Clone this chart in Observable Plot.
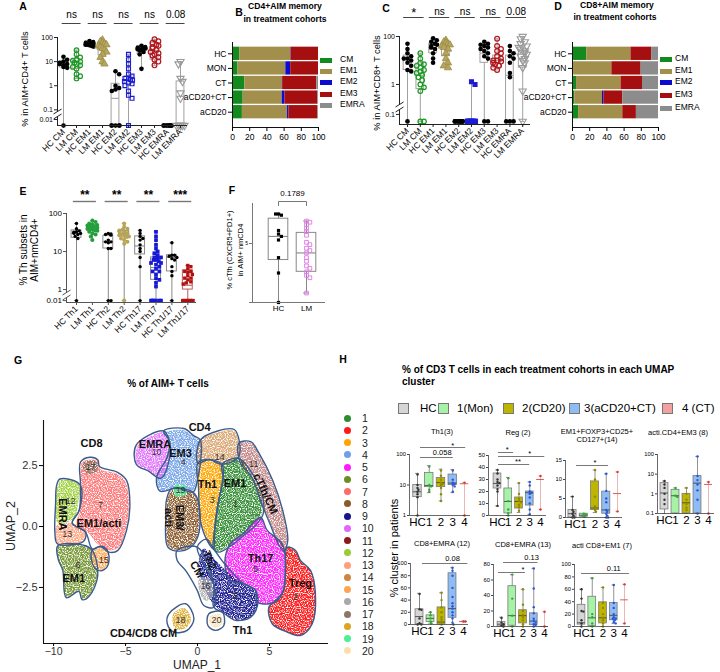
<!DOCTYPE html>
<html><head><meta charset="utf-8">
<script src="https://cdn.jsdelivr.net/npm/d3@7"></script>
<script src="https://cdn.jsdelivr.net/npm/@observablehq/plot@0.6"></script>
<style>
html,body{margin:0;padding:0;background:#fff;}
#fig{position:relative;width:720px;height:672px;overflow:hidden;font-family:"Liberation Sans",Arial,Helvetica,sans-serif;color:#000;background:#fff;}
.t{position:absolute;white-space:pre;line-height:1.15;}
.sw{position:absolute;box-sizing:border-box;}
</style></head>
<body><div id="fig"></div>
<script>
// ---------------- A / C : memory subsets of AIM+ CD4 and CD8 T cells ----------------
const memLabels = ["HC CM","LM CM","HC EM1","LM EM1","HC EM2","LM EM2","HC EM3","LM EM3","HC EMRA","LM EMRA"];
const aValues = [
  [16,12,10,9,8,8,7,6,5.5,0],
  [30,20,15,12,11,10,9,8,7,6,5,3,2.5,2],
  [72,65,60,55,55,50,50,48,45,42],
  [80,70,60,55,50,45,40,35,30,25,20,15,10,8],
  [4,3,1,0.8,0.7,0.6,0,0,0,0,0],
  [20,12,8,5,3,2.5,2,2,1.8,1.7,1.5,1.3,1.2,1,0.6,0.4,0.3,0],
  [45,40,38,35,35,33,30,30,25,20,5],
  [85,70,60,50,45,40,35,30,25,22,20,18,15,12,10,7],
  [0,0,0,0,0,0,0,0,0,0],
  [10,8,2,1.5,0.5,0.3,0,0,0,0,0,0]
];
// [min, q1, median, q3, max]
const aBoxes = [[0,5.7,8,10,16],[2,5,10,13,30],[42,47,55,68,75],[8,18,38,60,80],[0,0,0.3,1.2,4],
                [0,1.2,1.8,2.5,20],[5,21,33,38,45],[7,12,29,60,85],[0,0,0,0,0],[0,0,0,1.5,10]];
const aSig = ["ns","ns","ns","ns","0.08"];

const cValues = [
  [50,30,20,15,12,12,10,8,6,4,3.5,0],
  [20,12,8,7,6,5,4,3.5,3,2.5,2,1.5,1,0.8,0.6,0,0],
  [85,70,60,50,45,40,35,30,20,12,8],
  [70,60,55,50,45,40,35,30,20,12,8,6,5],
  [0,0,0,0,0,0,0,0,0,0],
  [1.3,1,0,0,0,0,0,0,0,0,0,0,0,0],
  [60,50,45,40,35,30,25,20,15,12,0,0],
  [80,40,30,25,20,15,12,10,10,9,8,7,6,5,4],
  [40,25,20,15,12,8,3,2,0,0,0],
  [100,80,60,50,40,35,30,25,20,18,15,12,10,8,5,0.6,0]
];
const cBoxes = [[0,4,11,16,50],[0,0.7,2.4,7.5,20],[8,20,30,50,85],[5,15,35,50,70],[0,0,0,0,0],
                [0,0,0,0,1.3],[0,8,20,31,60],[4,5,10,16,80],[0,0,2.4,16,40],[0,5,12,25,100]];
const cSig = ["*","ns","ns","ns","0.08"];

// ---------------- B / D : memory composition per treatment cohort ----------------
const cohorts = ["HC","MON","CT","aCD20+CT","aCD20"];
const subsets = ["CM","EM1","EM2","EM3","EMRA"];
const subsetColors = ["#138a1d","#a38f4c","#0c0cd0","#a50f0f","#8c8c8c"];
const cd4Memory = [[8.4,59.3,0.5,31.8,0],[6.4,55.6,5.7,32.3,0],[14.3,43.7,0.3,39.7,2.0],[12.4,45.4,3.2,38.2,0.8],[11.5,52.5,1.7,33.5,0.8]];
const cd8Memory = [[16.6,51.4,0,24,8],[0,45.8,0,34,20.2],[4.7,51.8,0,24.9,18.6],[2.8,32,1.6,22.1,41.5],[7.1,51.4,0,15.8,25.7]];

// ---------------- E : Th subsets ----------------
const thLabels = ["HC Th1","LM Th1","HC Th2","LM Th2","HC Th17","LM Th17","HC Th1/17","LM Th1/17"];
const eValues = [
  [55,40,35,33,32,30,30,28,25,22,0],
  [65,60,55,52,50,48,46,45,44,42,40,40,38,36,35,33,30,28,25,20],
  [30,29,28,27,20,18,18,17,12,12,0,0],
  [55,45,40,38,36,34,32,30,30,28,27,26,25,24,22,20,18,16,0],
  [36,30,25,22,20,15,12,10,7,4,0],
  [33,25,20,15,12,10,9,8,7,7,6.5,6,6,5.5,5,5,4.5,4,3.5,3,3,2.5,2,1.8,1.5,1.2,0,0,0,0,0,0],
  [17,8,8,7.5,7,6.5,6,4,3,2.3,0],
  [4.3,4,3.5,3,3,2.8,2.5,2.3,2,2,1.8,1.6,1.5,1.4,0,0,0,0,0,0,0,0,0,0,0,0]
];
const eBoxes = [[0,23,30,36,55],[20,35,42,50,65],[0,12,18,26,30],[0,25,30,35,55],[0,8.4,14,25,36],
                [0,1.8,3.8,7,33],[0,3,7,8,17],[0,1,1.3,3.2,4.3]];
const eSig = ["**","**","**","***"];

// ---------------- F : circulating Tfh ----------------
const fLabels = ["HC","LM"];
const fValues = [[7.5,7.4,7.5,6.1,5.8,5.6,5.3,3.8,2.5,0],
                 [6.9,6.8,6.6,6.3,6.0,5.7,5.1,4.9,4.6,4.4,4.2,3.8,3.5,3.1,2.9,2.6,2.3,2.1,0.8]];
const fBoxes = [[0,3.6,5.6,7.1,7.5],[0.8,2.6,4.2,5.9,6.9]];
const fSig = ["0.1789"];

// ---------------- G : UMAP of AIM+ T cells ----------------
const umapIds = [1,2,3,4,5,6,7,8,9,10,11,12,13,14,15,16,17,18,19,20];
const umapColors = ["#2e8b2e","#ff1a1a","#ffa500","#6f9fe8","#ff1aff","#6b8e23","#ff6a6a","#8b5a2b","#14148c","#e066ff",
                    "#8b1a1a","#9acd32","#ffa07a","#cd853f","#ffa54f","#a9a9a9","#8b7765","#daa520","#4eee94","#ffdead"];
const umapShapes = [
  [[1.67,2.58],[2.85,2.79],[3.54,2.30],[4.4,1.3],[4.45,0.5],[3.9,0.05],[3.1,-0.35],[2.3,-0.75],[1.5,-1.0],[1.11,-0.9],[1.18,0.25],[1.53,1.68]],
  [[6.23,-0.85],[6.81,-0.98],[7.15,-1.39],[7.85,-1.8],[8.19,-2.76],[7.97,-3.99],[7.15,-4.47],[6.23,-4.33],[5.19,-3.99],[4.95,-3.31],[5.3,-3.1],[5.99,-2.62],[6.11,-1.53]],
  [[-0.02,2.57],[0.79,2.7],[1.65,2.5],[1.71,2.02],[1.37,0.93],[1.13,-0.16],[1.09,-0.85],[0.63,-0.5],[0.21,0.25],[0.09,1.61]],
  [[-2.34,3.81],[-0.99,3.96],[-0.3,3.69],[0.16,3.52],[0.16,2.57],[-0.07,2.02],[-0.3,1.48],[-1.41,1.61],[-2.57,1.48],[-2.8,2.02],[-2.1,2.84],[-1.99,3.45]],
  [[2.29,-0.7],[3.19,-0.29],[4.38,0.37],[4.84,-0.16],[5.88,-0.7],[6.11,-1.52],[5.76,-2.91],[5.07,-3.16],[4.15,-3.1],[4.03,-2.62],[3.22,-2.35],[2.29,-2.21],[1.9,-1.5]],
  [[-9.7,-0.82],[-8.35,-0.74],[-7.38,-0.96],[-6.97,-2.01],[-7.55,-2.83],[-8.01,-2.96],[-8.24,-2.62],[-9.1,-2.87],[-9.33,-1.8],[-9.63,-1.39]],
  [[-8.01,2.64],[-6.97,2.7],[-6.74,2.36],[-5.58,2.16],[-5.0,1.82],[-4.77,0.93],[-5.0,-0.16],[-5.47,-0.85],[-6.16,-0.98],[-6.97,-0.71],[-7.66,-0.23],[-8.24,-0.16],[-8.4,0.18],[-8.17,0.66],[-8.08,1.75]],
  [[-1.76,1.5],[-0.37,1.41],[0.02,1.07],[0.09,-0.16],[-0.3,-0.71],[-1.06,-0.96],[-1.99,-0.82],[-2.15,0.38],[-2.1,1.07]],
  [[0.42,-0.9],[1.25,-1.39],[2.15,-1.89],[3.33,-2.42],[4.03,-2.62],[4.17,-3.24],[3.68,-3.73],[2.64,-3.85],[1.74,-3.52],[0.9,-3.03],[0.42,-2.42],[0.07,-1.6]],
  [[-4.14,3.32],[-2.34,3.86],[-2.1,3.45],[-1.99,2.84],[-2.57,2.02],[-3.38,2.3],[-4.19,2.57]],
  [[2.87,3.39],[3.68,3.45],[4.26,2.98],[5.19,1.89],[5.88,0.66],[6.23,-0.57],[5.99,-0.98],[5.65,-0.71],[5.07,0.11],[4.49,0.93],[3.8,2.02],[2.99,2.64]],
  [[-9.51,1.89],[-8.24,1.72],[-8.31,0.93],[-8.54,0.38],[-9.05,0.18],[-9.74,0.18],[-9.86,0.93],[-9.74,1.61]],
  [[-9.79,0.04],[-8.82,0.14],[-7.78,-0.23],[-7.85,-0.57],[-8.59,-0.74],[-9.7,-0.71],[-9.86,-0.33]],
  [[0.16,3.52],[1.37,3.86],[2.5,3.93],[2.85,3.5],[2.8,2.9],[1.65,2.5],[0.79,2.7],[-0.02,2.57]],
  [[-7.31,-1.01],[-6.62,-0.85],[-6.23,-1.09],[-6.27,-1.6],[-6.74,-1.78],[-7.2,-1.6]],
  [[0.15,-2.1],[0.95,-2.2],[1.05,-2.85],[0.55,-3.05],[0.15,-2.7]],
  [[-7.9,2.62],[-7.05,2.68],[-6.95,2.3],[-7.5,2.15],[-7.9,2.3]],
  [[-1.7,-3.6],[-0.9,-3.35],[-0.45,-3.8],[-0.8,-4.15],[-1.55,-4.2]],
  [[-1.6,1.72],[-0.85,1.68],[-0.8,1.3],[-1.55,1.25]],
  [[0.9,-3.65],[1.6,-3.6],[1.7,-4.0],[1.25,-4.15],[0.85,-4.0]]
];
const umapCentres = [[2.64,0.93],[6.81,-2.9],[1.02,1.07],[-0.99,2.64],[4.03,-1.73],[-8.31,-1.6],[-6.74,0.86],[-1.23,0.04],[2.64,-2.83],[-2.85,3.05],
                     [3.91,2.57],[-8.82,1.04],[-9.05,-0.33],[1.55,2.84],[-6.51,-1.37],[0.56,-2.46],[-7.43,2.43],[-1.18,-3.85],[-1.18,1.5],[1.32,-3.82]];
const umapOutlines = [
  [[-8.13,2.64],[-7.48,2.84],[-6.92,2.73],[-6.81,2.46],[-5.58,2.23],[-4.93,1.89],[-4.7,0.93],[-4.93,-0.16],[-5.53,-0.98],[-6.16,-1.05],[-6.74,-0.82],[-7.31,-0.92],[-7.78,-0.23],[-8.7,0.14],[-8.22,0.66],[-8.13,1.75]],
  [[-9.56,1.95],[-8.17,1.72],[-8.22,0.66],[-8.7,0.14],[-7.78,-0.23],[-7.9,-0.6],[-8.59,-0.74],[-9.74,-0.71],[-9.91,-0.23],[-9.86,0.93],[-9.79,1.68]],
  [[-9.72,-0.8],[-8.35,-0.72],[-7.36,-0.94],[-6.93,-2.01],[-7.53,-2.86],[-8.02,-3.0],[-8.24,-2.66],[-9.12,-2.92],[-9.36,-1.8],[-9.66,-1.38]],
  [[-7.33,-0.99],[-6.6,-0.82],[-6.2,-1.08],[-6.24,-1.62],[-6.75,-1.82],[-7.23,-1.62]],
  [[-4.25,3.35],[-2.35,3.92],[-1.95,3.5],[-1.95,2.8],[-2.55,1.98],[-3.4,2.27],[-4.25,2.55]],
  [[-2.35,3.92],[-0.95,4.02],[-0.25,3.72],[0.2,3.55],[0.2,2.6],[0.0,1.95],[-0.3,1.42],[-1.4,1.58],[-2.6,1.45],[-2.85,2.0],[-2.1,2.85],[-1.95,3.5]],
  [[-1.8,1.55],[-0.35,1.42],[0.05,1.05],[0.12,-0.2],[-0.3,-0.75],[-1.1,-1.0],[-2.05,-0.85],[-2.2,0.4],[-2.15,1.1]],
  [[0.2,3.55],[1.4,3.92],[2.55,3.98],[2.9,3.5],[2.85,2.85],[1.7,2.55],[0.8,2.75],[0.02,2.6]],
  [[0.02,2.6],[0.8,2.75],[1.7,2.55],[1.78,2.0],[1.42,0.9],[1.18,-0.2],[1.12,-0.92],[0.62,-0.52],[0.2,0.25],[0.07,1.6]],
  [[1.7,2.55],[2.85,2.8],[3.6,2.35],[4.5,1.3],[4.55,0.5],[3.95,0.0],[3.15,-0.4],[2.3,-0.8],[1.5,-1.05],[1.12,-0.92],[1.18,-0.2],[1.42,0.9],[1.78,2.0]],
  [[2.87,3.42],[3.7,3.48],[4.28,3.0],[5.22,1.9],[5.92,0.66],[6.27,-0.57],[6.0,-1.02],[5.62,-0.72],[5.04,0.1],[4.46,0.93],[3.77,2.02],[2.96,2.64]],
  [[2.29,-0.7],[3.19,-0.29],[4.38,0.37],[4.84,-0.16],[5.88,-0.7],[6.11,-1.52],[5.76,-2.91],[5.07,-3.16],[4.15,-3.1],[4.03,-2.62],[3.22,-2.35],[2.29,-2.21],[1.9,-1.5]],
  [[-0.02,-0.85],[0.62,-0.52],[1.12,-0.92],[1.9,-1.55],[3.19,-2.34],[4.03,-2.62],[4.17,-3.24],[3.68,-3.73],[2.64,-3.85],[1.74,-3.52],[1.13,-3.31],[1.13,-2.35]],
  [[6.23,-0.85],[6.81,-0.98],[7.15,-1.39],[7.85,-1.8],[8.19,-2.76],[7.97,-3.99],[7.15,-4.47],[6.23,-4.33],[5.19,-3.99],[4.95,-3.31],[5.3,-3.1],[5.99,-2.62],[6.11,-1.53]],
  [[-1.41,-0.98],[-0.02,-0.85],[1.13,-2.35],[1.13,-3.31],[0.44,-3.24],[-0.02,-2.62],[-0.83,-1.8],[-1.41,-1.39]],
  [[-1.99,-3.58],[-0.83,-3.17],[-0.25,-3.78],[-0.72,-4.26],[-1.65,-4.33],[-2.1,-3.99]],
  [[0.79,-3.58],[1.71,-3.51],[1.83,-4.06],[1.25,-4.26],[0.72,-4.06]]
];
const umapRegions = [
  {label:"CD8", x:-7.36, y:3.4, rot:0}, {label:"EMRA", x:-9.4, y:0.5, rot:90}, {label:"EM1/acti", x:-6.85, y:0.12, rot:0},
  {label:"EM1", x:-8.6, y:-2.13, rot:0}, {label:"CD4", x:0.15, y:4.06, rot:0}, {label:"EMRA", x:-2.95, y:3.36, rot:0},
  {label:"EM3", x:-1.18, y:2.99, rot:0}, {label:"Th1", x:0.69, y:1.72, rot:0}, {label:"EM1", x:2.6, y:1.76, rot:0},
  {label:"EM3/\nacti", x:-1.6, y:0.37, rot:90}, {label:"CM", x:-0.05, y:-1.76, rot:60}, {label:"Th2", x:0.85, y:-1.39, rot:68},
  {label:"cTfh/CM", x:4.72, y:1.35, rot:65}, {label:"Th17", x:4.38, y:-1.31, rot:0}, {label:"Treg", x:7.15, y:-2.34, rot:0},
  {label:"Th1", x:3.13, y:-4.26, rot:0}, {label:"CD4/CD8 CM", x:-3.75, y:-4.39, rot:0}
];

// ---------------- H : cluster share per treatment cohort ----------------
const hCohorts = ["HC","1","2","3","4"];
const hLegend = ["HC","1(Mon)","2(CD20)","3(aCD20+CT)","4 (CT)"];
const hTh1Values = [[22,10,8,7,6,5,4,1],[40,10,9,7,6],[30,20,15,12,11,10,8,5,3],[30,15,12,11,10,9,6],[12,1]];
const hTh1Boxes = [[1,4,6,10,24],[5.6,8.5,9.6,25,43],[3,8.5,12,17,33],[5.6,10,11.5,22,32],[1,null,11,null,12]];
const hTh1Sig = ["*","0.058"];
const hRegValues = [[38,35,30,28,27,25,22,20,8],[31,12,5,2,0],[27,18,14,12,11,9,7,4],[28,25,20,19,18,15,10,5,1],[33,5]];
const hRegBoxes = [[8,22.5,26.7,35,38],[0,1.7,11.7,22.5,31.7],[2.5,5.8,11.7,15,27],[0.8,8.3,19,20,28],[5,null,30,null,33]];
const hRegSig = ["*","*","**"];
const hEm14Values = [[5.5,2,1.5,1,0.5,0,0],[1,0.8,0.5,0.2],[12.5,10,5.5,3,2.5,2,1.5],[11.5,7,5,4,2,1.5,1,0.5,0,0],[12,1.6]];
const hEm14Boxes = [[0,0,1,2,5.5],[0.2,0.2,0.6,1,1],[1.3,2,2.5,9.5,12.5],[0,1,2,6.8,11.5],[1.6,null,6.3,null,12]];
const hEm14Sig = ["*"];
const hActi8Values = [[4.5,3,2,1,0.5,0.3],[2,0.8,0.7],[2,1,0.5,0.3,0.2,0.15],[80,8,5,3,1.5,0.5,0.1],[4,0.1]];
const hActi8Boxes = [[0.1,0.16,1.1,3.5,4.5],[0.1,0.1,0.8,1.6,2],[0.1,0.1,0.35,1,2],[0.1,0.1,3.5,8,80],[0.1,null,3,null,4]];
const hEmra12Values = [[50,25,24,10,2,0,0],[20,15,10,5,2],[52,40,28,20,12,8,4,0],[93,88,80,60,45,35,30,26,20,15,10,3,0],[5,5]];
const hEmra12Boxes = [[0,0,13,25,51],[2,4,10,15,20],[0,0,4,28,52],[0,11,26,84,93],[4,null,5,null,6]];
const hEmra12Sig = ["0.08"];
const hEmra13Values = [[11,5,3,1,0],[67,36,14,0],[48,28,20,15,12,8,3,0],[75,49,25,17,10,7,5,3,2,0],[19,0]];
const hEmra13Boxes = [[0,0,3,6,12],[0,1,14,52,67],[0,4,14,21,48],[0,2,7,17,75],[0,null,0,null,19]];
const hEmra13Sig = ["0.13","*"];
const hEm7Values = [[60,45,25,24,10,5,0],[78,20,15,5,0],[63,38,30,20,14,10,5,0],[67,38,30,20,15,13,12,10,7,5],[68,5]];
const hEm7Boxes = [[0,3,6,35,60],[0,1,14,48,78],[0,5,14,39,63],[5,10,18,38,67],[5,null,43,null,68]];
const hEm7Sig = ["0.11"];

// ================= drawing helpers =================
const fig = document.getElementById("fig");
const FONT = "'Liberation Sans', Arial, Helvetica, sans-serif";

function text(x, y, s, o = {}) {
  const el = document.createElement("div");
  el.className = "t";
  el.textContent = s;
  el.style.left = x + "px";
  el.style.top = y + "px";
  el.style.fontSize = (o.size ?? 10) + "px";
  if (o.bold) el.style.fontWeight = "bold";
  if (o.color) el.style.color = o.color;
  const tx = o.anchor === "start" ? "0" : o.anchor === "end" ? "-100%" : "-50%";
  el.style.transform = `translate(${tx}, -50%)` + (o.rotate ? ` rotate(${o.rotate}deg)` : "");
  fig.appendChild(el);
}
function swatch(x, y, w, h, fill, o = {}) {
  const el = document.createElement("div");
  el.className = "sw";
  Object.assign(el.style, {left: x + "px", top: y + "px", width: w + "px", height: h + "px", background: fill,
    border: o.border ?? "none", borderRadius: o.round ? "50%" : "0"});
  fig.appendChild(el);
}
function frame(X0, X1, Yt, Yb) {
  return {width: 720, height: 672, marginLeft: X0, marginRight: 720 - X1, marginTop: Yt, marginBottom: 672 - Yb};
}
function show(options) {
  const svg = Plot.plot(options);
  Object.assign(svg.style, {position: "absolute", left: "0px", top: "0px", background: "transparent",
    overflow: "visible", fontFamily: FONT, maxWidth: "none"});
  fig.appendChild(svg);
  return svg;
}

// box + whisker + scattered points per group, Prism style
function dotBox(cfg) {
  const {X0, X1, c0, step, Ytop, Ybot, posTop, posBot, pos, labels, values, boxes, styles} = cfg;
  const n = labels.length;
  const ppp = (Ybot - Ytop) / (posTop - posBot);
  const toPos = py => posTop - (py - Ytop) / ppp;
  const xmin = (X0 - c0) / step, xmax = (X1 - c0) / step;
  const lw = cfg.lineWidth ?? 1;
  const axisColor = cfg.axisColor ?? "#222";
  const bh = cfg.boxHalf, ch = cfg.capHalf;
  const marks = [];
  values.forEach((vals, g) => {
    const st = styles[g];
    const r = st.r;
    const placed = [];
    const pts = vals.map((v, k) => {
      const py = pos(v) * ppp;
      let off = null;
      for (let j = 0; j < 25 && off === null; j++) {
        const o = (j % 2 ? 1 : -1) * Math.ceil(j / 2) * r * 0.8;
        if (Math.abs(o) > cfg.spread) continue;
        if (placed.every(p => Math.hypot(p.o - o, p.py - py) >= r * 1.6)) off = o;
      }
      if (off === null) off = ((k % 5) - 2) * cfg.spread / 2;
      placed.push({o: off, py});
      return {x: g + off / step, y: pos(v)};
    });
    const b = boxes[g];
    const box = {g, min: b[0], q1: b[1], med: b[2], q3: b[3], max: b[4]};
    marks.push(Plot.ruleX([box], {x: "g", y1: d => pos(d.min), y2: d => pos(d.max), stroke: st.whisker, strokeWidth: lw}));
    marks.push(Plot.ruleY([box], {y: d => pos(d.max), x1: d => d.g - ch, x2: d => d.g + ch, stroke: st.whisker, strokeWidth: lw}));
    marks.push(Plot.ruleY([box], {y: d => pos(d.min), x1: d => d.g - ch, x2: d => d.g + ch, stroke: st.whisker, strokeWidth: lw}));
    if (box.q1 != null) marks.push(Plot.rect([box], {x1: d => d.g - bh, x2: d => d.g + bh, y1: d => pos(d.q1), y2: d => pos(d.q3),
      fill: st.boxFill, stroke: st.boxStroke, strokeWidth: lw}));
    marks.push(Plot.ruleY([box], {y: d => pos(d.med), x1: d => d.g - bh, x2: d => d.g + bh, stroke: st.med, strokeWidth: lw * 1.1}));
    marks.push(Plot.dot(pts, {x: "x", y: "y", r: st.r, symbol: st.symbol, fill: st.fill, stroke: st.stroke,
      strokeWidth: st.sw ?? 1, rotate: st.rotate ?? 0}));
  });
  // axis lines (with optional break)
  if (cfg.yBreak) {
    const bHi = toPos(cfg.yBreak[0]), bLo = toPos(cfg.yBreak[1]);
    marks.push(Plot.ruleX([xmin], {y1: bHi, y2: posTop, stroke: axisColor, strokeWidth: lw}));
    marks.push(Plot.ruleX([xmin], {y1: posBot, y2: bLo, stroke: axisColor, strokeWidth: lw}));
    const dx = 4 / step, dy = 2.5 / ppp;
    marks.push(Plot.link([bHi, bLo], {x1: xmin - dx, x2: xmin + dx, y1: d => d - dy, y2: d => d + dy, stroke: axisColor, strokeWidth: lw}));
  } else {
    marks.push(Plot.ruleX([xmin], {y1: posBot, y2: posTop, stroke: axisColor, strokeWidth: lw}));
  }
  marks.push(Plot.ruleY([posBot], {x1: xmin, x2: xmax, stroke: axisColor, strokeWidth: lw}));
  const tp = cfg.yTicks.map(pos);
  const tl = new Map(tp.map((p, i) => [p, cfg.yTickLabels[i]]));
  marks.push(Plot.axisY({ticks: tp, tickFormat: p => tl.get(p), tickSize: cfg.yTickSize ?? 3, tickPadding: 1.5,
    fontSize: cfg.yFont, label: null, stroke: axisColor}));
  marks.push(Plot.axisX({ticks: d3.range(n), tickFormat: i => labels[i], tickRotate: cfg.xRotate ?? 0,
    tickSize: cfg.xTickSize ?? 3, tickPadding: cfg.xPad ?? 2, fontSize: cfg.xFont, label: null, stroke: axisColor}));
  // significance annotations
  (cfg.sig || []).forEach((s, k) => {
    const t = cfg.sigText[k];
    if (s.drop) {
      marks.push(Plot.line([[s.x1, toPos(s.ly + s.drop)], [s.x1, toPos(s.ly)], [s.x2, toPos(s.ly)], [s.x2, toPos(s.ly + s.drop)]],
        {x: d => d[0], y: d => d[1], stroke: cfg.sigStroke ?? "#333", strokeWidth: cfg.sigWidth ?? 1}));
    } else {
      marks.push(Plot.ruleY([toPos(s.ly)], {x1: s.x1, x2: s.x2, stroke: cfg.sigStroke ?? "#333", strokeWidth: cfg.sigWidth ?? 1}));
    }
    marks.push(Plot.text([t], {x: s.tx ?? (s.x1 + s.x2) / 2, y: toPos(s.ty), text: d => d, fontSize: s.fs ?? cfg.sigFont,
      fontWeight: cfg.sigBold ? "bold" : "normal"}));
  });
  show({...frame(X0, X1, Ytop, Ybot), x: {domain: [xmin, xmax]}, y: {domain: [posBot, posTop]}, marks});
}

// horizontal 100 % stacked bars
function stackedBars(cfg) {
  const {X0, X1, Ytop, Ybot, rowTop, rowStep, values} = cfg;
  const rows = [];
  values.forEach((vals, i) => {
    let acc = 0;
    vals.forEach((v, j) => { rows.push({i, j, x1: acc, x2: acc + v}); acc += v; });
  });
  const yTop = (Ytop - rowTop) / rowStep, yBot = (Ybot - rowTop) / rowStep;
  const marks = subsets.map((s, j) => Plot.rect(rows.filter(r => r.j === j),
    {x1: "x1", x2: "x2", y1: r => r.i - 0.455, y2: r => r.i + 0.455, fill: subsetColors[j]}));
  marks.push(Plot.ruleX([0], {stroke: "#111", strokeWidth: 1}));
  marks.push(Plot.ruleY([yBot], {stroke: "#111", strokeWidth: 1}));
  marks.push(Plot.axisX({ticks: [0,20,40,60,80,100], tickSize: 4, tickPadding: 2, fontSize: 8.5, label: null}));
  marks.push(Plot.axisY({ticks: d3.range(cohorts.length), tickFormat: i => cohorts[i], tickSize: 4, tickPadding: 2, fontSize: 8.5, label: null}));
  show({...frame(X0, X1, Ytop, Ybot), x: {domain: [0, 100]}, y: {domain: [yBot, yTop]}, marks});
}

// ================= A =================
const GB = {whisker: "#a0a0a0", boxFill: "#fff", boxStroke: "#a0a0a0", med: "#a0a0a0"};
const memStyles = [
  {...GB, symbol: "circle", r: 2.3, fill: "#000"},
  {...GB, symbol: "circle", r: 2.3, fill: "none", stroke: "#1c9a22", sw: 1.2},
  {...GB, symbol: "circle", r: 2.3, fill: "#000"},
  {...GB, symbol: "triangle", r: 2.7, fill: "#b5a55e", stroke: "#9c8c45", sw: 0.8},
  {...GB, symbol: "circle", r: 2.3, fill: "#000"},
  {...GB, symbol: "square", r: 2.2, fill: "none", stroke: "#1c1cd4", sw: 1.2},
  {...GB, symbol: "circle", r: 2.3, fill: "#000"},
  {...GB, symbol: "circle", r: 2.4, fill: "none", stroke: "#b3161c", sw: 1.2},
  {...GB, symbol: "circle", r: 2.3, fill: "#000"},
  {...GB, symbol: "triangle", r: 2.7, fill: "none", stroke: "#9a9a9a", sw: 1.1, rotate: 180}
];
const posA = v => v >= 0.1 ? Math.log10(v) : v > 0 ? -1.4 + (Math.log10(v) + 2) * 0.4 : -1.65;
dotBox({X0: 57, X1: 187, c0: 63, step: 13, Ytop: 37, Ybot: 125, posTop: 2, posBot: -1.65, pos: posA,
  labels: memLabels, values: aValues, boxes: aBoxes, styles: memStyles,
  yTicks: [100, 10, 1, 0.1, 0.01], yTickLabels: ["100","10","1","0.1","0.01"], yFont: 7, yBreak: [111, 116],
  xRotate: -45, xFont: 8.5, boxHalf: 0.3, capHalf: 0.15, spread: 4,
  sig: aSig.map((_, k) => ({x1: 2 * k - 0.1, x2: 2 * k + 1.35, ly: 23, ty: 14})), sigText: aSig, sigFont: 10, sigStroke: "#444"});

// ================= C =================
const posC = v => v >= 1 ? Math.log10(v) : v >= 0.1 ? -1.25 + (Math.log10(v) + 1) * 1.25 : -1.54;
const memStylesC = memStyles.map((s, i) => i === 5 ? {...s, fill: "#1c1cd4"} : s);
dotBox({X0: 399, X1: 530, c0: 407, step: 12.8, Ytop: 36, Ybot: 124, posTop: 2, posBot: -1.67, pos: posC,
  labels: memLabels, values: cValues, boxes: cBoxes, styles: memStylesC,
  yTicks: [100, 1, 0.1], yTickLabels: ["100","1","0.1"], yFont: 7, yBreak: [104, 109],
  xRotate: -45, xFont: 8.5, boxHalf: 0.3, capHalf: 0.15, spread: 4,
  sig: cSig.map((t, k) => ({x1: 2 * k - 0.3, x2: 2 * k + 1.3, ly: 17, ty: t === "*" ? 12 : 11, fs: t === "*" ? 13 : 10})),
  sigText: cSig, sigFont: 10, sigStroke: "#444"});

// ================= B / D =================
stackedBars({X0: 232, X1: 318, Ytop: 42, Ybot: 127, rowTop: 53.3, rowStep: 14.6, values: cd4Memory});
stackedBars({X0: 572, X1: 658, Ytop: 42, Ybot: 127, rowTop: 53.3, rowStep: 14.6, values: cd8Memory});

// ================= E =================
const EB = {whisker: "#8a8a8a", boxFill: "#fff", boxStroke: "#8a8a8a", med: "#8a8a8a"};
const thStyles = [
  {...EB, symbol: "circle", r: 1.7, fill: "#000"},
  {...EB, boxFill: "#b9cfe6", symbol: "circle", r: 2, fill: "#23a03a"},
  {...EB, symbol: "circle", r: 1.7, fill: "#000"},
  {...EB, boxFill: "#b9cfe6", symbol: "circle", r: 2, fill: "#b8a455"},
  {...EB, symbol: "circle", r: 1.7, fill: "#000"},
  {...EB, symbol: "square", r: 2.1, fill: "#1717d6"},
  {...EB, symbol: "circle", r: 1.7, fill: "#000"},
  {...EB, boxStroke: "#c05858", whisker: "#c05858", med: "#c05858", symbol: "square", r: 1.9, fill: "#b30f0f"}
];
const posE = v => v >= 1 ? Math.log10(v) : -0.29;
dotBox({X0: 66, X1: 196, c0: 76, step: 15.9, Ytop: 213, Ybot: 302, posTop: 2, posBot: -0.34, pos: posE,
  labels: thLabels, values: eValues, boxes: eBoxes, styles: thStyles,
  yTicks: [100, 10, 1, 0.01], yTickLabels: ["100","10","1","0.01"], yFont: 8, yBreak: [292, 297], axisColor: "#555",
  xRotate: -45, xFont: 8.5, boxHalf: 0.31, capHalf: 0.12, spread: 5,
  sig: eSig.map((_, k) => ({x1: 2 * k - 0.2, x2: 2 * k + 1.25, ly: 201, ty: 195})), sigText: eSig, sigFont: 12, sigBold: true,
  sigStroke: "#777", sigWidth: 1.4});

// ================= F =================
const fStyles = [
  {whisker: "#888", boxFill: "#fff", boxStroke: "#888", med: "#888", symbol: "square", r: 1.8, fill: "#000"},
  {whisker: "#888", boxFill: "#fff", boxStroke: "#888", med: "#888", symbol: "square", r: 2.1, fill: "none", stroke: "#e183e6", sw: 1}
];
dotBox({X0: 252, X1: 325, c0: 278, step: 28, Ytop: 203, Ybot: 302, posTop: 8.39, posBot: 0, pos: v => v,
  labels: fLabels, values: fValues, boxes: fBoxes, styles: fStyles,
  yTicks: [5, 0], yTickLabels: ["5", ""], yFont: 5, axisColor: "#777",
  xRotate: 0, xFont: 8, xTickSize: 0, xPad: 3, boxHalf: 0.35, capHalf: 0.1, spread: 4,
  sig: [{x1: 0, x2: 1, ly: 201, drop: 4, ty: 193}], sigText: fSig, sigFont: 8, sigStroke: "#777"});

// ================= G =================
const gxDom = [-10.7, 9.1], gyDom = [-4.8, 4.35];
const umapDensity = [0.95,0.98,0.98,0.9,0.95,0.9,0.88,0.95,0.95,0.9,0.5,0.9,0.9,0.7,0.9,0.85,0.9,0.85,1,0.85];
const minus = d => (d < 0 ? "\u2212" : "") + Math.abs(d);
const gMarks = [];
umapShapes.forEach((shape, i) => gMarks.push(Plot.line(shape, {x: d => d[0], y: d => d[1], curve: "catmull-rom-closed",
  fill: umapColors[i], fillOpacity: umapDensity[i], stroke: "none"})));
umapOutlines.forEach(o => gMarks.push(Plot.line(o, {x: d => d[0], y: d => d[1], curve: "catmull-rom-closed",
  stroke: "#3b5b8c", strokeWidth: 1.4, fill: "none"})));
gMarks.push(Plot.text(umapCentres, {x: d => d[0], y: d => d[1], text: (d, i) => String(umapIds[i]), fontSize: 9, fill: "#333"}));
gMarks.push(Plot.text(umapRegions, {x: "x", y: "y", text: "label", rotate: "rot", fontSize: 11, fontWeight: "bold", fill: "#111"}));
gMarks.push(Plot.ruleX([gxDom[0]], {stroke: "#111", strokeWidth: 1.1}));
gMarks.push(Plot.ruleY([gyDom[0]], {stroke: "#111", strokeWidth: 1.1}));
gMarks.push(Plot.axisX({ticks: [-10, -5, 0, 5], tickFormat: minus, tickSize: 3, tickPadding: 1.5, fontSize: 10.5, label: null, fill: "#333"}));
gMarks.push(Plot.axisY({ticks: [-2.5, 0, 2.5], tickFormat: d => (d < 0 ? "\u2212" : "") + Math.abs(d).toFixed(1), tickSize: 4,
  tickPadding: 2, fontSize: 11, label: null, fill: "#333"}));
const gSvg = show({...frame(43, 328, 420, 643), x: {domain: gxDom}, y: {domain: gyDom}, marks: gMarks});
// the cells are dense scatter: give the cluster fills a fine dotted grain
gSvg.insertAdjacentHTML("afterbegin",
  `<defs><filter id="cellGrain" x="-5%" y="-5%" width="110%" height="110%">
     <feTurbulence type="fractalNoise" baseFrequency="0.85" numOctaves="1" seed="7" result="noise"/>
     <feColorMatrix in="noise" type="matrix" values="0 0 0 0 0  0 0 0 0 0  0 0 0 0 0  4.2 0 0 0 -1.35" result="mask"/>
     <feComposite in="SourceGraphic" in2="mask" operator="in"/>
   </filter></defs>`);
Array.from(gSvg.querySelectorAll('g[aria-label="line"]')).slice(0, umapShapes.length)
  .forEach(g => g.setAttribute("filter", "url(#cellGrain)"));

// ================= H =================
const hStyles = [
  {symbol: "circle", r: 1.2, fill: "#333", whisker: "#666", boxFill: "#d6d6d6", boxStroke: "#7a7a7a", med: "#444"},
  {symbol: "circle", r: 1.2, fill: "#3aa03a", whisker: "#777", boxFill: "#a6f2a6", boxStroke: "#7a7a7a", med: "#444"},
  {symbol: "circle", r: 1.2, fill: "#8f8a00", whisker: "#777", boxFill: "#bdb500", boxStroke: "#7a7a7a", med: "#444"},
  {symbol: "circle", r: 1.2, fill: "#2a55d8", whisker: "#777", boxFill: "#8fbcf2", boxStroke: "#7a7a7a", med: "#444"},
  {symbol: "circle", r: 1.2, fill: "#d03a3a", whisker: "#e9a3a3", boxFill: "none", boxStroke: "none", med: "#d04a4a"}
];
function hPanel(geom, data) {
  dotBox({...geom, ...data, labels: hCohorts, styles: hStyles, yFont: 5.8, yTickSize: 2,
    xRotate: 0, xFont: 11.5, xTickSize: 0, xPad: 2, boxHalf: 0.36, capHalf: 0.16, spread: 2.5,
    lineWidth: 0.8, axisColor: "#444", sigFont: 7.5, sigStroke: "#555", sigWidth: 0.8});
}
const lin = v => v;
hPanel({X0: 409, X1: 470, c0: 417, step: 11.75, Ytop: 454, Ybot: 515, posTop: 2, posBot: 0, pos: v => Math.log10(Math.max(v, 1)),
  yTicks: [100, 10, 1], yTickLabels: ["100","10","1"],
  sig: [{x1: 0.25, x2: 4.1, ly: 447, ty: 445, tx: 3}, {x1: 0.25, x2: 3.05, ly: 457, ty: 452.5, tx: 2.1}]},
  {values: hTh1Values, boxes: hTh1Boxes, sigText: hTh1Sig});
hPanel({X0: 488, X1: 546, c0: 497, step: 10.75, Ytop: 455, Ybot: 515, posTop: 50, posBot: 0, pos: lin,
  yTicks: [0,10,20,30,40,50], yTickLabels: ["0","10","20","30","40","50"],
  sig: [{x1: 0.1, x2: 1.5, ly: 452, ty: 449.5, tx: 0.9}, {x1: 0.1, x2: 4.4, ly: 456, ty: 453.5, tx: 3.0}, {x1: 0.1, x2: 3.0, ly: 464, ty: 461.5, tx: 1.9}]},
  {values: hRegValues, boxes: hRegBoxes, sigText: hRegSig});
hPanel({X0: 565, X1: 622, c0: 572, step: 11.25, Ytop: 460, Ybot: 517, posTop: 15, posBot: 0, pos: lin,
  yTicks: [0,5,10,15], yTickLabels: ["0","5","10","15"],
  sig: [{x1: 0.36, x2: 3.2, ly: 465, ty: 462.5, tx: 2.0}]},
  {values: hEm14Values, boxes: hEm14Boxes, sigText: hEm14Sig});
hPanel({X0: 657, X1: 714, c0: 664, step: 11, Ytop: 454, Ybot: 513, posTop: 2, posBot: -1, pos: v => Math.log10(Math.max(v, 0.1)),
  yTicks: [100, 10, 1, 0.1], yTickLabels: ["100","10","1","0.1"], sig: []},
  {values: hActi8Values, boxes: hActi8Boxes, sigText: []});
hPanel({X0: 410, X1: 468, c0: 419, step: 11, Ytop: 563, Ybot: 624, posTop: 100, posBot: 0, pos: lin,
  yTicks: [0,20,40,60,80,100], yTickLabels: ["0","20","40","60","80","100"],
  sig: [{x1: 0.27, x2: 4.4, ly: 563, ty: 558, tx: 3.0}]},
  {values: hEmra12Values, boxes: hEmra12Boxes, sigText: hEmra12Sig});
hPanel({X0: 493, X1: 548, c0: 501, step: 10.75, Ytop: 564, Ybot: 626, posTop: 80, posBot: 0, pos: lin,
  yTicks: [0,20,40,60,80], yTickLabels: ["0","20","40","60","80"],
  sig: [{x1: 0.19, x2: 3.4, ly: 562, ty: 557, tx: 2.8}, {x1: -0.28, x2: 2.23, ly: 572, ty: 569.5, tx: 2.0}]},
  {values: hEmra13Values, boxes: hEmra13Boxes, sigText: hEmra13Sig});
hPanel({X0: 574, X1: 630, c0: 581, step: 10.75, Ytop: 564, Ybot: 626, posTop: 100, posBot: 0, pos: lin,
  yTicks: [0,20,40,60,80,100], yTickLabels: ["0","20","40","60","80","100"],
  sig: [{x1: 0, x2: 4.46, ly: 573, ty: 568.5, tx: 3.0}]},
  {values: hEm7Values, boxes: hEm7Boxes, sigText: hEm7Sig});

// ================= titles, axis titles, legends =================
[["A",23,6],["B",239,12],["C",386,8],["D",558,6],["E",23,191],["F",232,190],["G",18,360],["H",343,359]]
  .forEach(([s, x, y]) => text(x, y, s, {size: 10.5, bold: true}));
text(285, 7, "CD4+AIM memory", {size: 8.6, bold: true});
text(285, 19.5, "in treatment cohorts", {size: 8.6, bold: true});
text(617, 6, "CD8+AIM memory", {size: 8.6, bold: true});
text(615, 18, "in treatment cohorts", {size: 8.6, bold: true});
text(25, 79, "% in AIM+CD4+ T cells", {size: 9.3, rotate: -90});
text(377, 83, "% in AIM+CD8+ T cells", {size: 9.3, rotate: -90});
text(24, 250, "% Th subsets in", {size: 10, rotate: -90});
text(35, 250, "AIM+nmCD4+", {size: 10, rotate: -90});
text(230, 250, "% cTfh (CXCR5+PD1+)", {size: 7.5, rotate: -90});
text(241, 250, "in AIM+ nmCD4", {size: 7.5, rotate: -90});
text(168, 384, "% of AIM+ T cells", {size: 10, bold: true});
text(197, 665.5, "UMAP_1", {size: 12, color: "#222"});
text(11, 526, "UMAP_2", {size: 12.5, rotate: -90, color: "#222"});

// B / D legends
const legY4 = [60, 71, 82, 94, 105], legY8 = [59, 71, 82, 95, 108];
subsets.forEach((s, j) => {
  swatch(320, legY4[j] - 2.5, 12, 5, subsetColors[j]);
  text(340, legY4[j], s, {size: 8.5, anchor: "start"});
  swatch(660, legY8[j] - 2.5, 12, 5, subsetColors[j]);
  text(675, legY8[j], s, {size: 8.5, anchor: "start"});
});

// G legend
umapIds.forEach((id, i) => {
  const y = 418 + i * 12.26;
  swatch(343.5, y - 3.5, 7, 7, umapColors[i], {round: true});
  text(362, y, String(id), {size: 10.5, anchor: "start", color: "#222"});
});

// H title, cohort legend, panel titles
text(402, 370, "% of CD3 T cells in each treatment cohorts in each UMAP", {size: 10, bold: true, anchor: "start"});
text(402, 382, "cluster", {size: 10, bold: true, anchor: "start"});
const hFills = ["#d6d6d6","#a6f2a6","#bdb500","#8fbcf2","#f2a0a0"];
const hSwX = [398, 438, 503, 569, 662], hTxX = [420, 457, 522, 584, 682];
hLegend.forEach((s, i) => {
  swatch(hSwX[i], 403, 11, 11, hFills[i], {border: "1px solid #777"});
  text(hTxX[i], 408.5, s, {size: 11.5, anchor: "start"});
});
[["Th1(3)",442,432],["Reg (2)",518,433],["EM1+FOXP3+CD25+",597,432],["CD127+(14)",597,440],["acti.CD4+EM3 (8)",678,433],
 ["CD8+EMRA (12)",442,544],["CD8+EMRA (13)",523,545],["acti CD8+EM1 (7)",602,546]]
  .forEach(([s, x, y]) => text(x, y, s, {size: 7.5}));
text(394, 548, "% cluster in patients", {size: 11, rotate: -90});
</script></body></html>
